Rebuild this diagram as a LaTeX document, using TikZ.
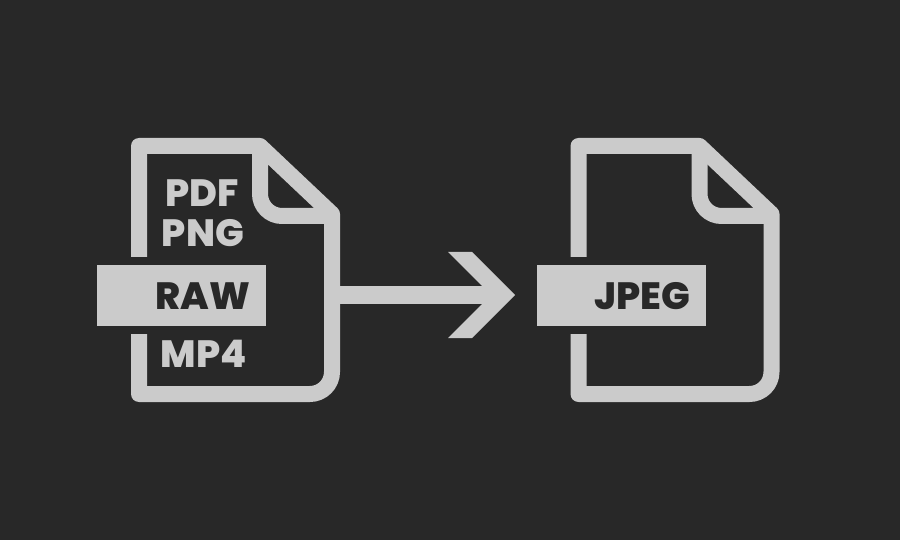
\documentclass[tikz,border=0pt]{standalone}
\usepackage{fontspec}
\setmainfont{Poppins}[BoldFont={Poppins ExtraBold}]
\definecolor{slate}{HTML}{282828}
\definecolor{pale}{HTML}{CBCBCB}
\tikzset{
    fileline/.style={draw=pale, line width=16pt, line join=round},
    band/.style={fill=pale, inner sep=0pt, minimum width=169pt, minimum height=61pt},
    extlabel/.style={anchor=base, inner sep=0pt, font=\fontsize{38}{38}\selectfont\bfseries},
}
\begin{document}
\begin{tikzpicture}[x=1pt, y=-1pt]
    % Background
    \fill[slate] (0,0) rectangle (900,540);

    % File outlines
    \foreach \shift in {0,439.5} {
        \begin{scope}[xshift=\shift pt]
            \draw[fileline] (139,257) -- (139,146) -- (260,146) -- (332,214)
                [rounded corners=22pt] -- (332,394) [sharp corners] -- (139,394) -- (139,334);
            \draw[fileline, rounded corners=22pt] (260,146) -- (260,216) -- (332,216);
        \end{scope}
    }

    % Bands
    \node[band] (rawband) at (181.5,295.5) {};
    \node[band] (jpegband) at (621.5,295.5) {};

    % Labels
    \node[extlabel, pale] (pdf) at (202,207) {PDF};
    \node[extlabel, pale] (png) at (203,247) {PNG};
    \node[extlabel, slate] (raw) at (203,309) {RAW};
    \node[extlabel, pale] (mp4) at (203.5,367) {MP4};
    \node[extlabel, slate] (jpeg) at (642,309) {JPEG};

    % Arrow
    \coordinate (start) at (340,295);
    \coordinate (tip) at (515,295);
    \draw[pale, line width=17pt] (start) -- (495,295);
    \fill[pale] (tip) -- (472,338) -- (448,338) -- (491,295) -- (448,252) -- (472,252) -- cycle;
\end{tikzpicture}
\end{document}
